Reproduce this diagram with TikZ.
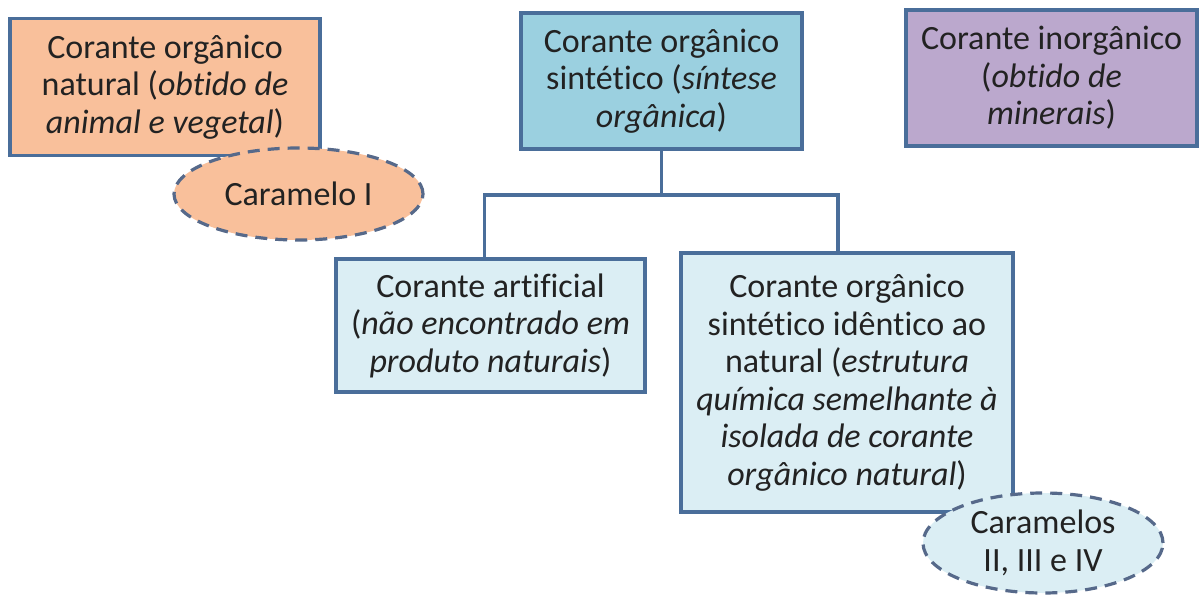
\documentclass[tikz,border=0pt]{standalone}
\usepackage{fontspec}
\setmainfont{Carlito}[Ligatures=NoCommon]
\usetikzlibrary{shapes.geometric,calc}
\definecolor{borderc}{HTML}{4A6E9A}
\definecolor{dashc}{HTML}{56698A}
\definecolor{orangef}{HTML}{F9C09B}
\definecolor{bluef}{HTML}{9BD0E0}
\definecolor{purplef}{HTML}{BBA8CD}
\definecolor{lightf}{HTML}{DBEEF4}
\definecolor{textc}{HTML}{222222}
\tikzset{
  box/.style={draw=borderc, line width=3.2pt, rectangle, align=center, inner sep=0pt,
    text=textc, font=\fontsize{34}{37.5}\selectfont},
  oval/.style={draw=dashc, line width=3.2pt, ellipse, align=center, inner sep=0pt,
    text=textc, dash pattern=on 12pt off 8pt, font=\fontsize{34}{37.5}\selectfont},
  link/.style={draw=borderc, line width=3.2pt}
}
\begin{document}
\begin{tikzpicture}[x=1pt,y=-1pt]
\useasboundingbox (0,0) rectangle (1200,599);
\node[box, fill=orangef, minimum width=310pt, minimum height=137pt] (nat) at (165,87)
  {Corante orgânico\\natural (\textit{obtido de}\\\textit{animal e vegetal})};
\node[box, fill=bluef, minimum width=281pt, minimum height=136pt] (sin) at (661.5,81)
  {Corante orgânico\\sintético (\textit{síntese}\\\textit{orgânica})};
\node[box, fill=purplef, minimum width=291pt, minimum height=136pt] (inorg) at (1051.5,78)
  {Corante inorgânico\\(\textit{obtido de}\\\textit{minerais})};
\node[box, fill=lightf, minimum width=309pt, minimum height=133pt] (art) at (490.5,325.5)
  {Corante artificial\\(\textit{não encontrado em}\\\textit{produto naturais})};
\node[box, fill=lightf, minimum width=332pt, minimum height=259pt] (ident) at (847,382.5)
  {Corante orgânico\\sintético idêntico ao\\natural (\textit{estrutura}\\\textit{química semelhante à}\\\textit{isolada de corante}\\\textit{orgânico natural})};
\node[oval, fill=orangef, minimum width=249pt, minimum height=92pt] (car1) at (298.5,194)
  {Caramelo I};
\node[oval, fill=lightf, minimum width=240pt, minimum height=100pt] (car2) at (1043,543)
  {Caramelos\\II, III e IV};
\coordinate (junc) at (661.5,195);
\draw[link] (sin.south) -- (junc);
\draw[link] ($(art.north)+(-6,0)$) |- (junc) -| ($(ident.north)+(-9,0)$);
\end{tikzpicture}
\end{document}
